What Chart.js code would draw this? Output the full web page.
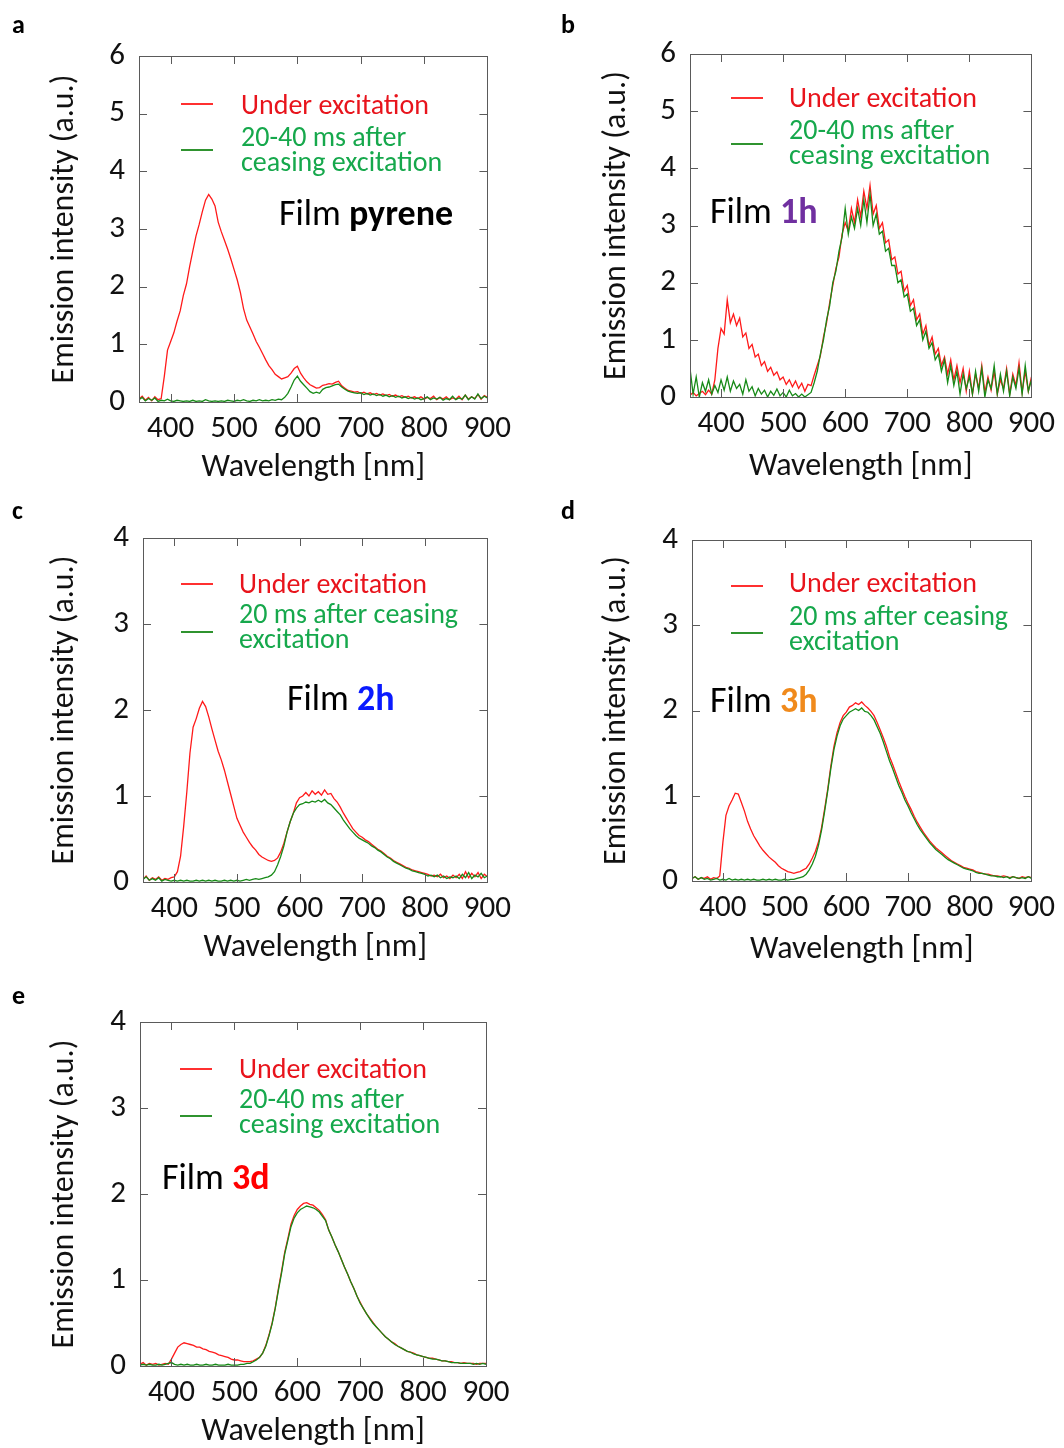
<!DOCTYPE html>
<html>
<head>
<meta charset="utf-8">
<script src="https://cdn.jsdelivr.net/npm/chart.js@4.4.1/dist/chart.umd.min.js"></script>
<style>
  body { margin: 0; background: #fff; width: 1064px; height: 1448px; position: relative; overflow: hidden;
         font-family: Carlito, Calibri, "Open Sans", sans-serif; }
  canvas { position: absolute; }
  .t { position: absolute; white-space: nowrap; z-index: 2; }
  .letter { font-weight: bold; font-size: 26px; color: #000; line-height: 26px; }
  .leg { font-size: 28px; line-height: 25px; }
  .red { color: #e8141c; }
  .grn { color: #16a84c; }
  .film { font-size: 36px; line-height: 40px; color: #000; }
  .film b { font-weight: bold; }
  .ln { position: absolute; height: 1.5px; width: 32px; z-index: 2; }
</style>
</head>
<body>

<canvas id="chartA"></canvas>
<canvas id="chartB"></canvas>
<canvas id="chartC"></canvas>
<canvas id="chartD"></canvas>
<canvas id="chartE"></canvas>

<!-- panel letters -->
<div class="t letter" style="left:12px;top:11px">a</div>
<div class="t letter" style="left:561px;top:11px">b</div>
<div class="t letter" style="left:12px;top:497px">c</div>
<div class="t letter" style="left:561px;top:497px">d</div>
<div class="t letter" style="left:12px;top:982px">e</div>

<!-- a -->
<div class="ln" style="left:181px;top:103px;background:#ff3030"></div>
<div class="ln" style="left:181px;top:149px;background:#2f932f"></div>
<div class="t leg red" style="left:241px;top:92px">Under excitation</div>
<div class="t leg grn" style="left:241px;top:124px">20-40 ms after<br>ceasing excitation</div>
<div class="t film" style="left:279px;top:193px">Film <b>pyrene</b></div>

<!-- b -->
<div class="ln" style="left:731px;top:97px;background:#ff3030"></div>
<div class="ln" style="left:731px;top:143px;background:#2f932f"></div>
<div class="t leg red" style="left:789px;top:85px">Under excitation</div>
<div class="t leg grn" style="left:789px;top:117px">20-40 ms after<br>ceasing excitation</div>
<div class="t film" style="left:710px;top:191px">Film <b style="color:#7030a0">1h</b></div>

<!-- c -->
<div class="ln" style="left:181px;top:583px;background:#ff3030"></div>
<div class="ln" style="left:181px;top:631px;background:#2f932f"></div>
<div class="t leg red" style="left:239px;top:571px">Under excitation</div>
<div class="t leg grn" style="left:239px;top:601px">20 ms after ceasing<br>excitation</div>
<div class="t film" style="left:287px;top:678px">Film <b style="color:#0a1aff">2h</b></div>

<!-- d -->
<div class="ln" style="left:731px;top:585px;background:#ff3030"></div>
<div class="ln" style="left:731px;top:632px;background:#2f932f"></div>
<div class="t leg red" style="left:789px;top:570px">Under excitation</div>
<div class="t leg grn" style="left:789px;top:603px">20 ms after ceasing<br>excitation</div>
<div class="t film" style="left:710px;top:680px">Film <b style="color:#f08a1c">3h</b></div>

<!-- e -->
<div class="ln" style="left:180px;top:1068px;background:#ff3030"></div>
<div class="ln" style="left:180px;top:1115px;background:#2f932f"></div>
<div class="t leg red" style="left:239px;top:1056px">Under excitation</div>
<div class="t leg grn" style="left:239px;top:1086px">20-40 ms after<br>ceasing excitation</div>
<div class="t film" style="left:162px;top:1157px">Film <b style="color:#ff0000">3d</b></div>

<script>
// wavelength grid (nm)
var wavelength = [
  350,355,360,365,370,375,380,385,390,395,
  400,405,410,415,420,425,430,435,440,445,
  450,455,460,465,470,475,480,485,490,495,
  500,505,510,515,520,525,530,535,540,545,
  550,555,560,565,570,575,580,585,590,595,
  600,605,610,615,620,625,630,635,640,645,
  650,655,660,665,670,675,680,685,690,695,
  700,705,710,715,720,725,730,735,740,745,
  750,755,760,765,770,775,780,785,790,795,
  800,805,810,815,820,825,830,835,840,845,
  850,855,860,865,870,875,880,885,890,895,
  900
];
var xTickValues = [400, 500, 600, 700, 800, 900];

// a: film pyrene
var pyreneUnder = [
  0.05,0.10,0.03,0.08,0.02,0.09,0.04,0.06,0.45,0.90,
  1.05,1.20,1.40,1.58,1.85,2.05,2.35,2.62,2.88,3.08,
  3.30,3.50,3.60,3.52,3.40,3.12,2.95,2.80,2.65,2.48,
  2.30,2.12,1.90,1.62,1.42,1.30,1.18,1.05,0.95,0.84,
  0.73,0.63,0.56,0.48,0.44,0.40,0.42,0.44,0.50,0.58,
  0.62,0.50,0.42,0.35,0.30,0.27,0.24,0.25,0.29,0.30,
  0.32,0.31,0.34,0.36,0.28,0.24,0.20,0.19,0.17,0.18,
  0.15,0.17,0.14,0.16,0.13,0.15,0.12,0.14,0.11,0.13,
  0.10,0.12,0.09,0.11,0.08,0.10,0.07,0.09,0.06,0.09,
  0.05,0.08,0.06,0.10,0.04,0.08,0.05,0.09,0.04,0.07,
  0.05,0.10,0.04,0.12,0.05,0.09,0.06,0.13,0.05,0.11,
  0.08
];
var pyreneAfter = [
  0.04,0.08,0.02,0.06,0.03,0.07,0.01,0.03,0.02,0.05,
  0.02,0.01,0.03,0.02,0.01,0.02,0.01,0.03,0.01,0.02,
  0.01,0.04,0.02,0.01,0.02,0.01,0.02,0.01,0.03,0.02,
  0.01,0.03,0.02,0.04,0.02,0.01,0.03,0.02,0.04,0.02,
  0.03,0.02,0.04,0.03,0.05,0.04,0.08,0.15,0.26,0.38,
  0.45,0.36,0.30,0.24,0.18,0.15,0.17,0.15,0.22,0.25,
  0.26,0.28,0.30,0.31,0.26,0.22,0.19,0.17,0.16,0.15,
  0.16,0.13,0.15,0.12,0.14,0.11,0.13,0.10,0.12,0.09,
  0.11,0.08,0.10,0.07,0.09,0.06,0.08,0.05,0.07,0.04,
  0.06,0.09,0.04,0.07,0.05,0.08,0.03,0.06,0.04,0.10,
  0.04,0.07,0.05,0.12,0.04,0.09,0.05,0.14,0.06,0.10,
  0.07
];

// b: film 1h
var film1hUnder = [
  0.03,0.08,0.02,0.06,0.10,0.04,0.12,0.05,0.30,0.85,
  1.20,1.10,1.70,1.30,1.45,1.25,1.38,1.05,1.12,0.85,
  0.92,0.70,0.75,0.55,0.62,0.45,0.52,0.38,0.44,0.30,
  0.35,0.22,0.30,0.18,0.28,0.15,0.24,0.10,0.22,0.20,
  0.38,0.55,0.72,1.05,1.30,1.65,1.95,2.25,2.45,2.85,
  3.05,2.90,3.30,3.05,3.45,3.15,3.60,3.30,3.70,3.20,
  3.35,2.95,3.05,2.70,2.75,2.40,2.45,2.15,2.20,1.85,
  1.95,1.60,1.70,1.35,1.45,1.10,1.25,0.90,1.05,0.75,
  0.85,0.55,0.70,0.40,0.65,0.30,0.55,0.25,0.50,0.10,
  0.45,0.05,0.40,0.15,0.55,0.08,0.35,0.12,0.45,0.05,
  0.30,0.15,0.50,0.05,0.40,0.20,0.60,0.08,0.45,0.10,
  0.35
];
var film1hAfter = [
  0.50,0.05,0.35,0.00,0.25,0.10,0.30,0.05,0.20,0.08,
  0.30,0.12,0.35,0.10,0.28,0.15,0.22,0.05,0.30,0.10,
  0.18,0.02,0.15,0.05,0.12,0.00,0.10,0.03,0.14,0.02,
  0.08,0.00,0.12,0.02,0.06,0.00,0.05,0.00,0.04,0.08,
  0.25,0.45,0.75,1.00,1.35,1.60,2.00,2.20,2.55,2.80,
  3.30,2.85,3.15,2.95,3.30,3.00,3.45,3.05,3.55,3.00,
  3.20,2.85,2.90,2.55,2.60,2.30,2.30,2.00,2.05,1.75,
  1.80,1.50,1.55,1.25,1.35,1.00,1.15,0.85,0.95,0.65,
  0.75,0.45,0.65,0.25,0.55,0.20,0.45,0.05,0.40,0.15,
  0.35,0.05,0.45,0.10,0.50,0.00,0.30,0.15,0.55,0.05,
  0.40,0.10,0.45,0.02,0.35,0.15,0.50,0.05,0.55,0.10,
  0.30
];

// c: film 2h
var film2hUnder = [
  0.03,0.07,0.02,0.05,0.03,0.06,0.02,0.04,0.03,0.05,
  0.06,0.12,0.30,0.65,1.05,1.50,1.80,1.90,2.02,2.10,
  2.04,1.92,1.78,1.65,1.52,1.42,1.30,1.16,1.02,0.88,
  0.74,0.66,0.58,0.52,0.46,0.41,0.37,0.32,0.29,0.27,
  0.25,0.24,0.25,0.28,0.35,0.45,0.58,0.70,0.80,0.92,
  0.98,1.00,1.04,1.00,1.06,1.02,1.05,1.01,1.07,1.02,
  1.03,0.97,0.93,0.87,0.80,0.74,0.68,0.62,0.58,0.54,
  0.52,0.49,0.47,0.44,0.41,0.38,0.36,0.33,0.30,0.28,
  0.25,0.23,0.21,0.19,0.17,0.16,0.14,0.13,0.12,0.11,
  0.10,0.09,0.07,0.08,0.06,0.09,0.05,0.07,0.04,0.08,
  0.05,0.09,0.04,0.12,0.05,0.10,0.06,0.11,0.04,0.09,
  0.06
];
var film2hAfter = [
  0.03,0.06,0.02,0.04,0.02,0.05,0.01,0.03,0.02,0.01,
  0.02,0.01,0.02,0.01,0.02,0.01,0.01,0.02,0.01,0.02,
  0.01,0.02,0.01,0.02,0.01,0.01,0.02,0.01,0.02,0.01,
  0.02,0.01,0.02,0.03,0.02,0.03,0.04,0.03,0.04,0.05,
  0.06,0.08,0.12,0.20,0.30,0.42,0.58,0.70,0.80,0.86,
  0.90,0.91,0.93,0.92,0.94,0.93,0.95,0.93,0.96,0.92,
  0.90,0.86,0.82,0.78,0.72,0.67,0.62,0.58,0.54,0.51,
  0.49,0.47,0.45,0.42,0.40,0.37,0.35,0.32,0.29,0.27,
  0.24,0.22,0.20,0.18,0.16,0.15,0.13,0.12,0.11,0.10,
  0.09,0.07,0.08,0.06,0.08,0.05,0.07,0.04,0.06,0.05,
  0.07,0.04,0.09,0.05,0.11,0.04,0.08,0.06,0.10,0.05,
  0.07
];

// d: film 3h
var film3hUnder = [
  0.03,0.05,0.02,0.04,0.03,0.05,0.02,0.04,0.03,0.06,
  0.45,0.77,0.88,0.95,1.03,1.02,0.92,0.82,0.70,0.61,
  0.53,0.47,0.41,0.36,0.32,0.28,0.25,0.22,0.18,0.15,
  0.13,0.11,0.10,0.09,0.10,0.11,0.13,0.15,0.20,0.27,
  0.35,0.46,0.63,0.85,1.08,1.35,1.58,1.74,1.86,1.94,
  1.98,2.04,2.06,2.09,2.07,2.10,2.06,2.03,1.99,1.94,
  1.86,1.77,1.68,1.58,1.46,1.37,1.27,1.17,1.08,0.99,
  0.91,0.84,0.76,0.69,0.63,0.57,0.52,0.47,0.43,0.39,
  0.36,0.33,0.30,0.27,0.24,0.22,0.20,0.18,0.16,0.15,
  0.14,0.13,0.11,0.10,0.09,0.08,0.08,0.07,0.06,0.06,
  0.05,0.06,0.05,0.04,0.05,0.04,0.03,0.05,0.04,0.05,
  0.04
];
var film3hAfter = [
  0.03,0.05,0.02,0.04,0.02,0.03,0.01,0.02,0.03,0.01,
  0.02,0.01,0.03,0.01,0.02,0.01,0.02,0.01,0.02,0.01,
  0.02,0.01,0.01,0.02,0.01,0.02,0.01,0.02,0.01,0.01,
  0.02,0.01,0.02,0.02,0.03,0.04,0.05,0.08,0.13,0.20,
  0.29,0.42,0.60,0.82,1.06,1.32,1.54,1.70,1.82,1.90,
  1.94,1.98,2.00,2.02,2.00,2.03,1.99,1.98,1.94,1.89,
  1.81,1.73,1.63,1.52,1.41,1.32,1.22,1.12,1.04,0.95,
  0.88,0.80,0.73,0.66,0.60,0.55,0.50,0.45,0.41,0.37,
  0.34,0.31,0.28,0.25,0.23,0.21,0.19,0.17,0.15,0.14,
  0.13,0.12,0.10,0.09,0.09,0.08,0.07,0.06,0.06,0.05,
  0.05,0.04,0.05,0.03,0.05,0.04,0.03,0.04,0.03,0.05,
  0.03
];

// e: film 3d
var film3dUnder = [
  0.02,0.04,0.01,0.03,0.02,0.03,0.01,0.02,0.03,0.02,
  0.08,0.15,0.22,0.25,0.27,0.26,0.25,0.24,0.22,0.22,
  0.20,0.19,0.17,0.16,0.15,0.13,0.12,0.11,0.10,0.08,
  0.07,0.07,0.06,0.05,0.05,0.05,0.06,0.08,0.10,0.15,
  0.24,0.36,0.50,0.68,0.90,1.10,1.32,1.48,1.65,1.75,
  1.82,1.86,1.89,1.90,1.88,1.87,1.84,1.81,1.76,1.70,
  1.58,1.50,1.41,1.33,1.24,1.15,1.07,0.98,0.90,0.81,
  0.74,0.67,0.61,0.56,0.51,0.46,0.42,0.38,0.34,0.31,
  0.28,0.26,0.23,0.21,0.19,0.17,0.16,0.15,0.13,0.12,
  0.11,0.10,0.09,0.09,0.08,0.07,0.06,0.06,0.05,0.05,
  0.04,0.04,0.03,0.04,0.03,0.03,0.03,0.02,0.03,0.03,
  0.03
];
var film3dAfter = [
  0.01,0.02,0.01,0.02,0.01,0.01,0.02,0.01,0.02,0.03,
  0.04,0.02,0.01,0.02,0.01,0.02,0.01,0.01,0.02,0.01,
  0.01,0.02,0.01,0.01,0.02,0.01,0.01,0.01,0.02,0.01,
  0.01,0.01,0.02,0.02,0.03,0.03,0.05,0.07,0.10,0.15,
  0.23,0.35,0.49,0.67,0.88,1.08,1.30,1.46,1.62,1.72,
  1.78,1.82,1.84,1.86,1.85,1.84,1.82,1.79,1.74,1.69,
  1.58,1.50,1.41,1.33,1.24,1.15,1.07,0.98,0.90,0.81,
  0.73,0.67,0.61,0.55,0.50,0.46,0.42,0.38,0.34,0.31,
  0.28,0.25,0.23,0.21,0.19,0.17,0.16,0.14,0.13,0.12,
  0.11,0.10,0.09,0.08,0.08,0.07,0.06,0.06,0.05,0.04,
  0.04,0.04,0.03,0.03,0.03,0.03,0.02,0.03,0.02,0.03,
  0.02
];

var redLine = '#ff1a1a';
var greenLine = '#178a17';
var fontStack = 'Carlito, Calibri, "Open Sans", sans-serif';
var tickSize = 31;
var titleSize = 32;

Chart.defaults.font.family = fontStack;
Chart.defaults.color = '#111';

// frame around the plot plus inward tick marks on all four sides
var frameTicks = {
  id: 'frameTicks',
  afterDraw: function(chart) {
    var ctx = chart.ctx, a = chart.chartArea;
    var xs = chart.scales.x, ys = chart.scales.y;
    var len = 8;
    ctx.save();
    ctx.strokeStyle = '#5a5a5a';
    ctx.lineWidth = 1;
    ctx.strokeRect(Math.round(a.left) + 0.5, Math.round(a.top) + 0.5,
      Math.round(a.right - a.left), Math.round(a.bottom - a.top));
    ctx.beginPath();
    xs.ticks.forEach(function(t) {
      var px = Math.round(xs.getPixelForValue(t.value)) + 0.5;
      ctx.moveTo(px, a.bottom); ctx.lineTo(px, a.bottom - len);
      ctx.moveTo(px, a.top); ctx.lineTo(px, a.top + len);
    });
    ys.ticks.forEach(function(t) {
      var py = Math.round(ys.getPixelForValue(t.value)) + 0.5;
      ctx.moveTo(a.left, py); ctx.lineTo(a.left + len, py);
      ctx.moveTo(a.right, py); ctx.lineTo(a.right - len, py);
    });
    ctx.stroke();
    ctx.restore();
  }
};

function points(values) {
  return wavelength.map(function(w, i) { return { x: w, y: values[i] }; });
}

function makeChart(p) {
  var c = p.canvas, b = p.box;
  var cv = document.getElementById(p.id);
  cv.width = c[2]; cv.height = c[3];
  cv.style.left = c[0] + 'px'; cv.style.top = c[1] + 'px';
  var yWidth = b[0] - c[0];
  var padTop = b[1] - c[1];
  var padRight = c[0] + c[2] - b[2];
  var xHeight = c[1] + c[3] - b[3];
  var half = titleSize / 2;
  return new Chart(cv, {
    type: 'line',
    data: {
      datasets: [
        { label: 'after', data: points(p.after), borderColor: greenLine, borderWidth: 1.3,
          pointRadius: 0, tension: 0, order: 0 },
        { label: 'under', data: points(p.under), borderColor: redLine, borderWidth: 1.3,
          pointRadius: 0, tension: 0, order: 1 }
      ]
    },
    options: {
      responsive: false,
      animation: false,
      layout: { padding: { left: 0, top: padTop, right: padRight, bottom: 0 } },
      plugins: { legend: { display: false }, tooltip: { enabled: false } },
      scales: {
        x: {
          type: 'linear', min: 350, max: 900,
          afterBuildTicks: function(s) { s.ticks = xTickValues.map(function(v) { return { value: v }; }); },
          afterFit: function(s) { s.height = xHeight; },
          grid: { display: false, drawTicks: false },
          border: { display: false },
          ticks: { font: { size: tickSize }, color: '#111', padding: 9, maxRotation: 0, autoSkip: false },
          title: { display: true, text: 'Wavelength [nm]', font: { size: titleSize, lineHeight: 1 }, color: '#111',
                   padding: { top: 0, bottom: Math.max(0, p.titleBottom - half) } }
        },
        y: {
          min: 0, max: p.yMax,
          afterFit: function(s) { s.width = yWidth; },
          grid: { display: false, drawTicks: false },
          border: { display: false },
          ticks: { stepSize: 1, font: { size: tickSize }, color: '#111', padding: 14 },
          title: { display: true, text: 'Emission intensity (a.u.)', font: { size: titleSize, lineHeight: 1 }, color: '#111',
                   padding: { top: p.titleLeft - half, bottom: 0 } }
        }
      }
    },
    plugins: [frameTicks]
  });
}

// canvas: [left, top, width, height]; box: plot frame [left, top, right, bottom]
var panels = [
  { id: 'chartA', under: pyreneUnder, after: pyreneAfter, yMax: 6,
    canvas: [0, 18, 520, 472], box: [139, 56, 488, 402], titleBottom: 22, titleLeft: 65 },
  { id: 'chartB', under: film1hUnder, after: film1hAfter, yMax: 6,
    canvas: [540, 16, 524, 474], box: [690, 54, 1032, 397], titleBottom: 23, titleLeft: 77 },
  { id: 'chartC', under: film2hUnder, after: film2hAfter, yMax: 4,
    canvas: [0, 500, 520, 475], box: [143, 538, 488, 882], titleBottom: 27, titleLeft: 65 },
  { id: 'chartD', under: film3hUnder, after: film3hAfter, yMax: 4,
    canvas: [540, 502, 524, 473], box: [692, 540, 1033, 881], titleBottom: 25, titleLeft: 77 },
  { id: 'chartE', under: film3dUnder, after: film3dAfter, yMax: 4,
    canvas: [0, 984, 520, 464], box: [140, 1022, 486, 1366], titleBottom: 15, titleLeft: 65 }
];

panels.forEach(makeChart);
</script>
</body>
</html>
